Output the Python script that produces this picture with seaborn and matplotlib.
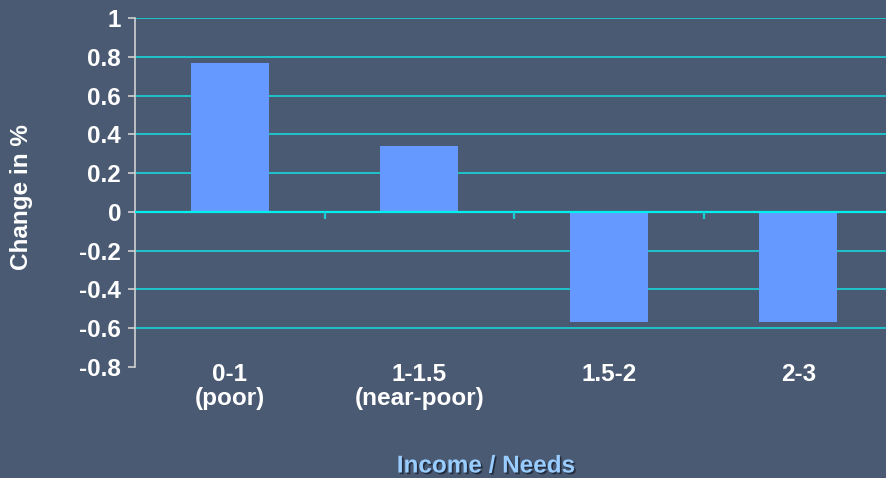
import matplotlib
matplotlib.use("Agg")
import matplotlib.pyplot as plt
import matplotlib.patheffects as pe
import seaborn as sns
import pandas as pd

categories = ["0-1\n(poor)", "1-1.5\n(near-poor)", "1.5-2", "2-3"]
change_pct = [0.77, 0.34, -0.57, -0.57]
y_ticks = [1, 0.8, 0.6, 0.4, 0.2, 0, -0.2, -0.4, -0.6, -0.8]
y_tick_labels = ["1", "0.8", "0.6", "0.4", "0.2", "0", "-0.2", "-0.4", "-0.6", "-0.8"]

bg = "#4a5a72"
bar_color = "#6699ff"
grid_color = "#1ccbd3"
zero_color = "#00f0f0"
fs = 17.5

sns.set_theme(style="dark")
plt.rcParams["font.family"] = ["Liberation Sans", "DejaVu Sans"]
plt.rcParams["font.weight"] = "bold"

df = pd.DataFrame({"group": categories, "change": change_pct})

fig = plt.figure(figsize=(8.86, 4.78), dpi=100, facecolor=bg)
ax = fig.add_axes([135 / 886, 1 - 367 / 478, (893 - 135) / 886, (367 - 18) / 478])
ax.set_facecolor(bg)

sns.barplot(data=df, x="group", y="change", color=bar_color, saturation=1,
            width=0.41, linewidth=0, edgecolor="none", ax=ax, zorder=3)

ax.set_xlim(-0.5, 3.5)
ax.set_ylim(-0.8, 1.0)

# horizontal grid
for yv in y_ticks:
    if yv in (0, -0.8):
        continue
    ax.axhline(yv, color=grid_color, lw=1.3, zorder=1)
ax.axhline(0, color=zero_color, lw=1.6, zorder=4)
# category separators hanging from the zero line
ax.vlines([0.5, 1.5, 2.5], -0.036, 0, color=grid_color, lw=1.6, zorder=4)

for s in ["top", "right", "bottom"]:
    ax.spines[s].set_visible(False)
ax.spines["left"].set_color("#d0d0d0")
ax.spines["left"].set_linewidth(1.2)

ax.set_yticks(y_ticks)
ax.set_yticklabels(y_tick_labels)
ax.tick_params(axis="y", colors="#d0d0d0", labelcolor="white", length=5, width=1.2,
               pad=5, labelsize=fs, left=True, direction="out")
ax.tick_params(axis="x", length=0, pad=-3, labelsize=fs, labelcolor="white")
for lbl in ax.get_xticklabels() + ax.get_yticklabels():
    lbl.set_fontweight("bold")
for lbl in ax.get_xticklabels():
    lbl.set_linespacing(1.05)

ax.set_xlabel("")
ax.set_ylabel("")
ax.grid(False)

fig.text(22 / 886, 1 - 197 / 478, "Change in %", rotation=90, color="white",
         fontsize=fs, fontweight="bold", ha="center", va="center")
fig.text(486 / 886, 1 - 466 / 478, "Income / Needs", color="#99ccff",
         fontsize=fs, fontweight="bold", ha="center", va="center",
         path_effects=[pe.withSimplePatchShadow(offset=(1.2, -1.2),
                                                shadow_rgbFace="#1a2232", alpha=0.8)])

fig.savefig("out.png", dpi=100, facecolor=bg)
